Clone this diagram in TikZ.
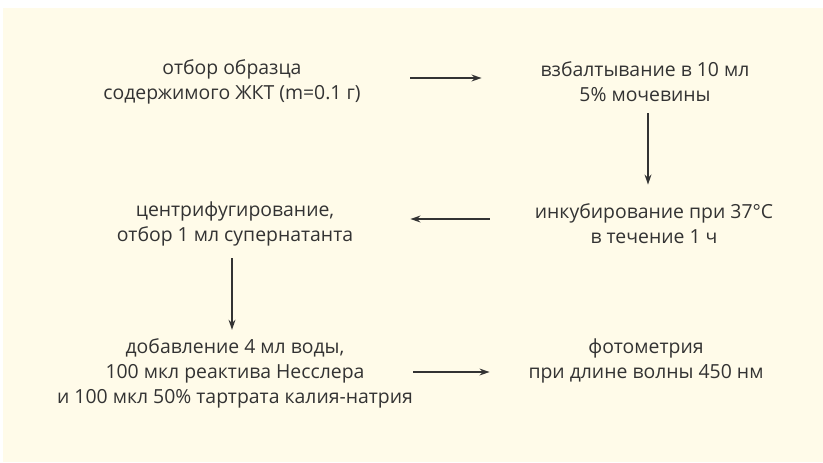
\documentclass[tikz,border=0pt]{standalone}
\usepackage{fontspec}
\setmainfont{Open Sans}
\usetikzlibrary{arrows.meta}
\definecolor{nen}{HTML}{FFFBE9}
\definecolor{chu}{HTML}{333333}

\begin{document}
\begin{tikzpicture}[x=0.5pt, y=-0.5pt, font=\fontsize{9.7}{12.5}\selectfont,
	buoc/.style={align=center, text=chu, inner sep=0pt, minimum width=160pt, minimum height=30pt},
	mui/.style={-{Stealth[length=5pt, width=3.4pt]}, line width=0.9pt, chu}]
	% Nền của sơ đồ
	\useasboundingbox (0,0) rectangle (823,462);
	\fill[nen] (3,8) rectangle (823,462);
	% Các bước
	\node[buoc] (n1) at (232,82) {отбор образца\\содержимого ЖКТ (m=0.1 г)};
	\node[buoc] (n2) at (645,82) {взбалтывание в 10 мл\\5\% мочевины};
	\node[buoc] (n3) at (654,224) {инкубирование при 37°C\\в течение 1 ч};
	\node[buoc] (n4) at (235,224) {центрифугирование,\\отбор 1 мл супернатанта};
	\node[buoc] (n5) at (235,373) {добавление 4 мл воды,\\100 мкл реактива Несслера\\и 100 мкл 50\% тартрата калия-натрия};
	\node[buoc] (n6) at (646,361) {фотометрия\\при длине волны 450 нм};
	% Các mũi tên nối
	\draw[mui, shorten <=9pt, shorten >=1.5pt] ([yshift=2pt]n1.east) -- ([yshift=2pt]n2.west);
	\draw[mui, shorten <=0.5pt, shorten >=4.5pt] ([xshift=1.5pt]n2.south) -- ([xshift=1.5pt]n2.south |- n3.north);
	\draw[mui, shorten <=2pt, shorten >=7.5pt] ([yshift=2.5pt]n3.west) -- ([yshift=2.5pt]n4.east);
	\draw[mui, shorten <=2pt, shorten >=4pt] ([xshift=-1.5pt]n4.south) -- ([xshift=-1.5pt]n4.south |- n5.north);
	\draw[mui, shorten <=0pt, shorten >=-2pt] ([yshift=0.5pt]n5.east) -- ([yshift=0.5pt]n5.east -| n6.west);
\end{tikzpicture}
\end{document}
